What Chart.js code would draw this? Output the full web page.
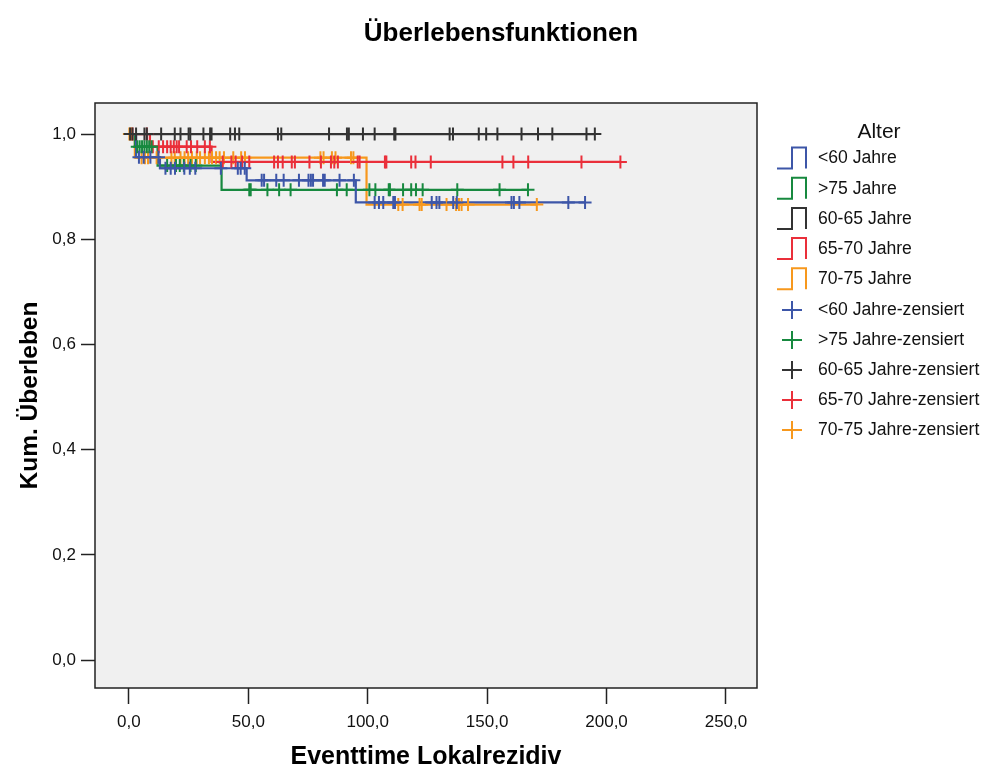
<!DOCTYPE html>
<html><head><meta charset="utf-8">
<script src="https://cdn.jsdelivr.net/npm/chart.js@4"></script>
<style>html,body{margin:0;padding:0;background:#fff;} #wrap{width:984px;height:772px;position:relative;}</style>
</head><body><div id="wrap"><canvas id="c" width="984" height="772"></canvas></div>
<script>
// ---- texts ----
const chartTitle = 'Überlebensfunktionen';
const xTitle = 'Eventtime Lokalrezidiv';
const yTitle = 'Kum. Überleben';
const legendTitle = 'Alter';
const groupLabels = ['<60 Jahre', '>75 Jahre', '60-65 Jahre', '65-70 Jahre', '70-75 Jahre'];
const censorSuffix = '-zensiert';
const xTickValues = [0, 50, 100, 150, 200, 250];
const yTickValues = [0, 0.2, 0.4, 0.6, 0.8, 1.0];

// ---- Kaplan-Meier step curves (time, survival after step) ----
const lt60Times = [0, 3, 13, 49.3, 95, 191];
const lt60Surv  = [1, 0.956, 0.935, 0.912, 0.870, 0.870];
const gt75Times = [0, 2.5, 12, 38.8, 167.1];
const gt75Surv  = [1, 0.976, 0.940, 0.894, 0.894];
const a6065Times = [0, 195.1];
const a6065Surv  = [1, 1];
const a6570Times = [0, 8.8, 34.6, 205.8];
const a6570Surv  = [1, 0.976, 0.947, 0.947];
const a7075Times = [0, 2.5, 99.5, 170.8];
const a7075Surv  = [1, 0.955, 0.866, 0.866];

// ---- censored times ----
const lt60Censor = [4.2, 6.2, 9, 12.4, 15.3, 17.5, 19.3, 23.2, 25.5, 27.8, 38.5, 45.6, 46.8, 48.5, 55.6, 56.6, 61.7, 64.8, 71.2, 75.2, 76.2, 77.1, 81.3, 82, 88.2, 94.2, 102.9, 104.7, 106.5, 110.7, 111.4, 126.8, 128.8, 130, 135.8, 137.3, 160.2, 161.2, 163.5, 184, 191];
const gt75Censor = [3.5, 4.5, 5.5, 6.5, 7.5, 8.5, 9.5, 16, 19.7, 21.3, 23, 25.8, 28, 50.4, 51, 58, 62.9, 67.7, 87.1, 91.2, 100.7, 103.2, 108.8, 109.3, 114.8, 118.2, 120.2, 123, 137.5, 155.2, 167.1];
const a6065Censor = [0.5, 1.5, 3, 6.5, 7.5, 13.5, 19.2, 21.6, 25, 25.7, 31.2, 34, 34.6, 42.4, 44.4, 46.2, 62.4, 63.8, 83.8, 91.3, 92.1, 98, 102.9, 111.1, 111.6, 134.3, 135.7, 146.5, 149.6, 154.3, 164.4, 171.3, 177.3, 191.6, 195.1];
const a6570Censor = [1.5, 7.5, 10, 12.5, 14.3, 16, 17.5, 18.8, 20, 21, 24.2, 26, 28.6, 31.8, 33.9, 39.3, 42.9, 44.7, 47.4, 50.4, 60.8, 62.4, 64.4, 68.2, 69.5, 75.6, 80.4, 84.6, 86, 87.5, 95.8, 96.6, 107.2, 107.8, 118.2, 120, 126.4, 156.4, 161, 167.2, 189.5, 205.8];
const a7075Censor = [0.2, 1, 5.3, 6.7, 8, 11.6, 17.8, 19.2, 21.6, 23.3, 24.8, 26.4, 28.4, 29.8, 31.8, 33.5, 34.8, 36.5, 38, 39.8, 43.7, 47, 48.6, 80.2, 81.5, 85, 86.5, 93, 94, 112.8, 114.6, 121.7, 122.6, 133, 137, 138.2, 139.3, 142, 170.8];

const groupColors = ['#3d56a8', '#17893f', '#333333', '#ea2f3a', '#f7981d'];

const curveTimes = [lt60Times, gt75Times, a6065Times, a6570Times, a7075Times];
const curveSurv = [lt60Surv, gt75Surv, a6065Surv, a6570Surv, a7075Surv];
const censorTimes = [lt60Censor, gt75Censor, a6065Censor, a6570Censor, a7075Censor];

function survAt(times, surv, t) {
  let s = surv[0];
  for (let i = 0; i < times.length; i++) if (times[i] <= t) s = surv[i];
  return s;
}

const FONT = "'Liberation Sans', Arial, Helvetica, sans-serif";
Chart.defaults.font.family = FONT;

const datasets = [];
groupLabels.forEach((lab, i) => {
  datasets.push({
    label: lab + censorSuffix,
    data: censorTimes[i].map(t => ({x: t, y: survAt(curveTimes[i], curveSurv[i], t)})),
    showLine: false,
    pointStyle: 'cross',
    pointRadius: 6.5,
    pointBorderWidth: 2,
    pointBorderColor: groupColors[i],
    pointBackgroundColor: groupColors[i],
    order: 0
  });
});
groupLabels.forEach((lab, i) => {
  datasets.push({
    label: lab,
    data: curveTimes[i].map((t, k) => ({x: t, y: curveSurv[i][k]})),
    stepped: true,
    borderColor: groupColors[i],
    borderWidth: 2.2,
    pointRadius: 0,
    fill: false,
    order: 1
  });
});

const fmt = v => Number(v).toFixed(1).replace('.', ',');

const decor = {
  id: 'decor',
  beforeDraw(chart) {
    const {ctx, chartArea: a} = chart;
    ctx.save();
    ctx.fillStyle = '#ffffff';
    ctx.fillRect(0, 0, chart.width, chart.height);
    ctx.fillStyle = '#f0f0f0';
    ctx.fillRect(a.left, a.top, a.right - a.left, a.bottom - a.top);
    ctx.restore();
  },
  afterDraw(chart) {
    const {ctx, chartArea: a} = chart;
    ctx.save();
    ctx.strokeStyle = '#222';
    ctx.lineWidth = 1.5;
    ctx.strokeRect(a.left, a.top, a.right - a.left, a.bottom - a.top);
    // title
    ctx.fillStyle = '#000';
    ctx.font = 'bold 26px ' + FONT;
    ctx.textAlign = 'center';
    ctx.textBaseline = 'middle';
    ctx.fillText(chartTitle, 501, 34);
    // legend
    ctx.font = '21px ' + FONT;
    ctx.fillStyle = '#111';
    ctx.fillText(legendTitle, 879, 132);
    ctx.font = '17.6px ' + FONT;
    ctx.textAlign = 'left';
    groupLabels.forEach((lab, i) => {
      const y = 158.5 + 30.2 * i;
      ctx.strokeStyle = groupColors[i];
      ctx.lineWidth = 2;
      ctx.beginPath();
      ctx.moveTo(777, y + 10);
      ctx.lineTo(792, y + 10);
      ctx.lineTo(792, y - 11);
      ctx.lineTo(806, y - 11);
      ctx.lineTo(806, y + 10);
      ctx.stroke();
      ctx.fillStyle = '#111';
      ctx.fillText(lab, 818, y);
    });
    groupLabels.forEach((lab, i) => {
      const y = 310 + 30 * i;
      ctx.strokeStyle = groupColors[i];
      ctx.lineWidth = 2;
      ctx.beginPath();
      ctx.moveTo(782, y); ctx.lineTo(802, y);
      ctx.moveTo(792, y - 9); ctx.lineTo(792, y + 9);
      ctx.stroke();
      ctx.fillStyle = '#111';
      ctx.fillText(lab + censorSuffix, 818, y);
    });
    ctx.restore();
  }
};

new Chart(document.getElementById('c'), {
  type: 'line',
  data: {datasets},
  plugins: [decor],
  options: {
    responsive: false,
    animation: false,
    events: [],
    layout: {padding: {left: 0, top: 103, right: 227, bottom: 0}},
    plugins: {legend: {display: false}, title: {display: false}, tooltip: {enabled: false}},
    scales: {
      x: {
        type: 'linear',
        min: -14.2, max: 263,
        afterBuildTicks: s => { s.ticks = xTickValues.map(v => ({value: v})); },
        afterFit: s => { s.height = 84; },
        ticks: {callback: v => fmt(v), color: '#111', font: {size: 17}, padding: 8, maxRotation: 0, autoSkip: false},
        grid: {display: true, drawOnChartArea: false, drawTicks: true, tickLength: 16, tickColor: '#222', tickWidth: 1.5},
        border: {display: false},
        title: {display: true, text: xTitle, color: '#000', font: {size: 25, weight: 'bold', lineHeight: 1}, padding: {top: 0, bottom: 2}}
      },
      y: {
        type: 'linear',
        min: -0.053, max: 1.059,
        afterBuildTicks: s => { s.ticks = yTickValues.map(v => ({value: v})); },
        afterFit: s => { s.width = 95; },
        ticks: {callback: v => fmt(v), color: '#111', font: {size: 17}, padding: 5, autoSkip: false},
        grid: {display: true, drawOnChartArea: false, drawTicks: true, tickLength: 14, tickColor: '#222', tickWidth: 1.5},
        border: {display: false},
        title: {display: true, text: yTitle, color: '#000', font: {size: 24.5, weight: 'bold', lineHeight: 1}, padding: {top: 18, bottom: 0}}
      }
    }
  }
});
</script>
</body></html>
